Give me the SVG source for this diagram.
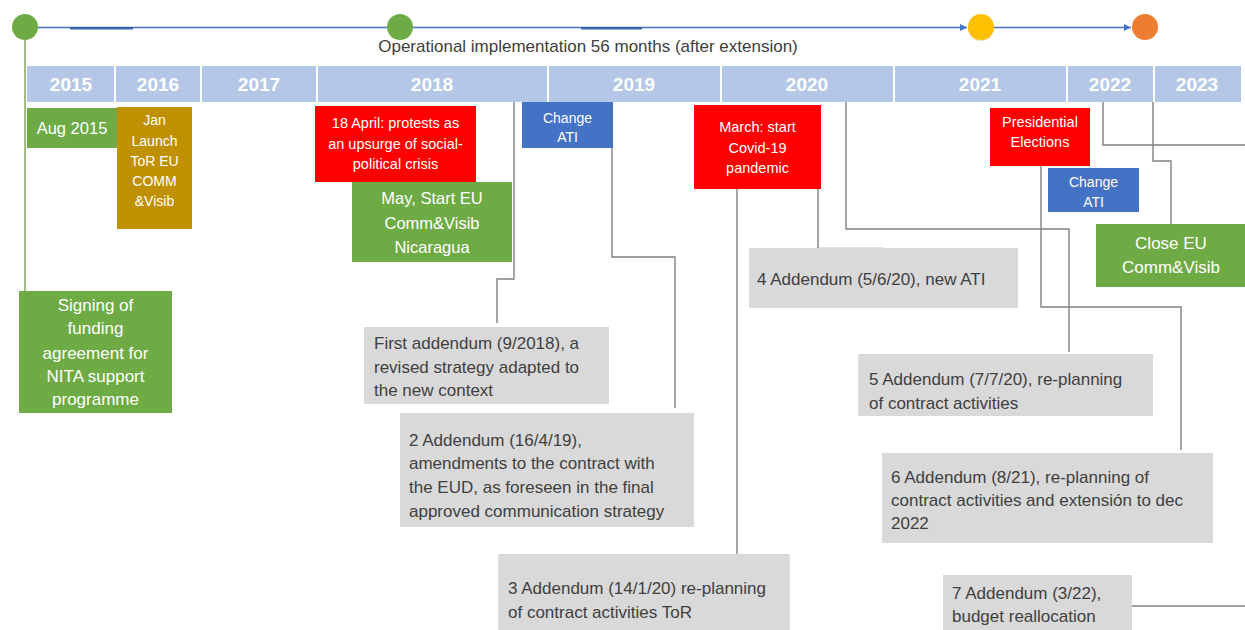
<svg xmlns="http://www.w3.org/2000/svg" width="1245" height="630" viewBox="0 0 1245 630">
<style>
text{font-family:"Liberation Sans",Arial,sans-serif}
.yr{font-size:19px;font-weight:bold;fill:#ffffff;text-anchor:middle}
.wt{fill:#ffffff;text-anchor:middle}
.gt{fill:#404040;font-size:17px}
.conn{fill:none;stroke:#808080;stroke-width:1.4}
.green{fill:#6eab45}
.red{fill:#fe0000}
.gold{fill:#bf9000}
.blue{fill:#4472c4}
.gray{fill:#d9d9d9}
</style>
<defs>
<marker id="arr" markerWidth="8" markerHeight="8" refX="7" refY="4" orient="auto" markerUnits="userSpaceOnUse">
<path d="M0,0.5 L7,4 L0,7.5 Z" fill="#4472c4"/>
</marker>
</defs>
<rect width="1245" height="630" fill="#ffffff"/>

<g id="timeline">
<line x1="25" y1="27.5" x2="967" y2="27.5" stroke="#4472c4" stroke-width="1.5" marker-end="url(#arr)"/>
<line x1="70" y1="28.2" x2="133" y2="28.2" stroke="#3a62b0" stroke-width="2.4"/>
<line x1="581" y1="28.2" x2="642" y2="28.2" stroke="#3a62b0" stroke-width="2.4"/>
<line x1="994" y1="27.5" x2="1131" y2="27.5" stroke="#4472c4" stroke-width="1.5" marker-end="url(#arr)"/>
<text x="588" y="52" font-size="17" fill="#404040" text-anchor="middle">Operational implementation 56 months (after extension)</text>
</g>

<g id="connectors">
<line x1="25" y1="39" x2="25" y2="291" stroke="#8aae6a" stroke-width="1.6"/>
<polyline class="conn" points="514,102 514,279 497,279 497,323"/>
<polyline class="conn" points="612,148 612,257 675,257 675,408"/>
<polyline class="conn" points="737,189 737,554"/>
<polyline class="conn" points="818,189 818,248.5 883,248.5"/>
<polyline class="conn" points="846,102 846,229 1069,229 1069,352"/>
<polyline class="conn" points="1041,166 1041,307 1181,307 1181,450"/>
<polyline class="conn" points="1103,102 1103,145 1245,145"/>
<polyline class="conn" points="1132,606 1245,606"/>
<polyline class="conn" points="1153,102 1153,161 1171,161 1171,224"/>
</g>

<g id="milestones">
<circle cx="25" cy="27" r="13" fill="#6eab45"/>
<circle cx="400" cy="27" r="13" fill="#6eab45"/>
<circle cx="981" cy="28" r="13" fill="#c9a040" opacity="0.35"/>
<circle cx="981" cy="27" r="13" fill="#ffc000"/>
<circle cx="1145" cy="27" r="13" fill="#ed7d31"/>
</g>

<g id="years">
<rect x="27" y="66" width="1214" height="36" fill="#b4c7e7"/>
<g stroke="#ffffff" stroke-width="2">
<line x1="115" y1="66" x2="115" y2="102"/>
<line x1="201" y1="66" x2="201" y2="102"/>
<line x1="317" y1="66" x2="317" y2="102"/>
<line x1="548" y1="66" x2="548" y2="102"/>
<line x1="721" y1="66" x2="721" y2="102"/>
<line x1="894" y1="66" x2="894" y2="102"/>
<line x1="1067" y1="66" x2="1067" y2="102"/>
<line x1="1154" y1="66" x2="1154" y2="102"/>
</g>
<text class="yr" x="71" y="91">2015</text>
<text class="yr" x="158" y="91">2016</text>
<text class="yr" x="259" y="91">2017</text>
<text class="yr" x="432" y="91">2018</text>
<text class="yr" x="634" y="91">2019</text>
<text class="yr" x="807" y="91">2020</text>
<text class="yr" x="980" y="91">2021</text>
<text class="yr" x="1110" y="91">2022</text>
<text class="yr" x="1197" y="91">2023</text>
</g>

<g id="aug2015">
<rect class="green" x="27" y="108" width="90" height="40"/>
<text class="wt" x="72" y="134" font-size="16.5">Aug 2015</text>
</g>

<g id="jan-launch">
<rect class="gold" x="117" y="107" width="75" height="122"/>
<text class="wt" font-size="14"><tspan x="154.5" y="125">Jan</tspan><tspan x="154.5" y="146">Launch</tspan><tspan x="154.5" y="166">ToR EU</tspan><tspan x="154.5" y="186">COMM</tspan><tspan x="154.5" y="206">&amp;Visib</tspan></text>
</g>

<g id="april-protests">
<rect class="red" x="315" y="106" width="161" height="76"/>
<text class="wt" font-size="14.5"><tspan x="395.5" y="128">18 April: protests as</tspan><tspan x="395.5" y="149">an upsurge of social-</tspan><tspan x="395.5" y="169">political crisis</tspan></text>
</g>

<g id="may-start">
<rect class="green" x="352" y="182" width="160" height="80"/>
<text class="wt" font-size="16.5"><tspan x="432" y="204">May, Start EU</tspan><tspan x="432" y="229">Comm&amp;Visib</tspan><tspan x="432" y="253">Nicaragua</tspan></text>
</g>

<g id="change-ati-1">
<rect class="blue" x="522" y="102" width="91" height="46"/>
<text class="wt" font-size="14"><tspan x="567.5" y="123">Change</tspan><tspan x="567.5" y="142">ATI</tspan></text>
</g>

<g id="covid">
<rect class="red" x="694" y="105" width="127" height="84"/>
<text class="wt" font-size="14.5"><tspan x="757.5" y="132">March: start</tspan><tspan x="757.5" y="153">Covid-19</tspan><tspan x="757.5" y="173">pandemic</tspan></text>
</g>

<g id="presidential">
<rect class="red" x="990" y="108" width="100" height="58"/>
<text class="wt" font-size="14.5"><tspan x="1040" y="127">Presidential</tspan><tspan x="1040" y="147">Elections</tspan></text>
</g>

<g id="change-ati-2">
<rect class="blue" x="1048" y="168" width="91" height="44"/>
<text class="wt" font-size="14"><tspan x="1093.5" y="187">Change</tspan><tspan x="1093.5" y="207">ATI</tspan></text>
</g>

<g id="close-eu">
<rect class="green" x="1096" y="224" width="149" height="63"/>
<text class="wt" font-size="17"><tspan x="1171" y="249">Close EU</tspan><tspan x="1171" y="273">Comm&amp;Visib</tspan></text>
</g>

<g id="signing">
<rect class="green" x="19" y="291" width="153" height="122"/>
<text class="wt" font-size="17"><tspan x="95.5" y="311">Signing of</tspan><tspan x="95.5" y="334">funding</tspan><tspan x="95.5" y="359">agreement for</tspan><tspan x="95.5" y="382">NITA support</tspan><tspan x="95.5" y="405">programme</tspan></text>
</g>

<g id="addendum-1">
<rect class="gray" x="364" y="327" width="245" height="77"/>
<text class="gt"><tspan x="374" y="349">First addendum (9/2018), a</tspan><tspan x="374" y="373">revised strategy adapted to</tspan><tspan x="374" y="396">the new context</tspan></text>
</g>

<g id="addendum-2">
<rect class="gray" x="400" y="413" width="294" height="114"/>
<text class="gt"><tspan x="409" y="446">2 Addendum (16/4/19),</tspan><tspan x="409" y="469">amendments to the contract with</tspan><tspan x="409" y="493">the EUD, as foreseen in the final</tspan><tspan x="409" y="517">approved communication strategy</tspan></text>
</g>

<g id="addendum-3">
<rect class="gray" x="498" y="554" width="292" height="76"/>
<text class="gt"><tspan x="508" y="594">3 Addendum (14/1/20) re-planning</tspan><tspan x="508" y="618">of contract activities ToR</tspan></text>
</g>

<g id="addendum-4">
<rect class="gray" x="749" y="248" width="269" height="60"/>
<text class="gt" x="757" y="285">4 Addendum (5/6/20), new ATI</text>
</g>

<g id="addendum-5">
<rect class="gray" x="858" y="354" width="295" height="62"/>
<text class="gt"><tspan x="869" y="385">5 Addendum (7/7/20), re-planning</tspan><tspan x="869" y="409">of contract activities</tspan></text>
</g>

<g id="addendum-6">
<rect class="gray" x="882" y="453" width="331" height="90"/>
<text class="gt"><tspan x="891" y="483">6 Addendum (8/21), re-planning of</tspan><tspan x="891" y="506">contract activities and extensión to dec</tspan><tspan x="891" y="529">2022</tspan></text>
</g>

<g id="addendum-7">
<rect class="gray" x="943" y="575" width="189" height="55"/>
<text class="gt"><tspan x="952" y="599">7 Addendum (3/22),</tspan><tspan x="952" y="622">budget reallocation</tspan></text>
</g>
</svg>
